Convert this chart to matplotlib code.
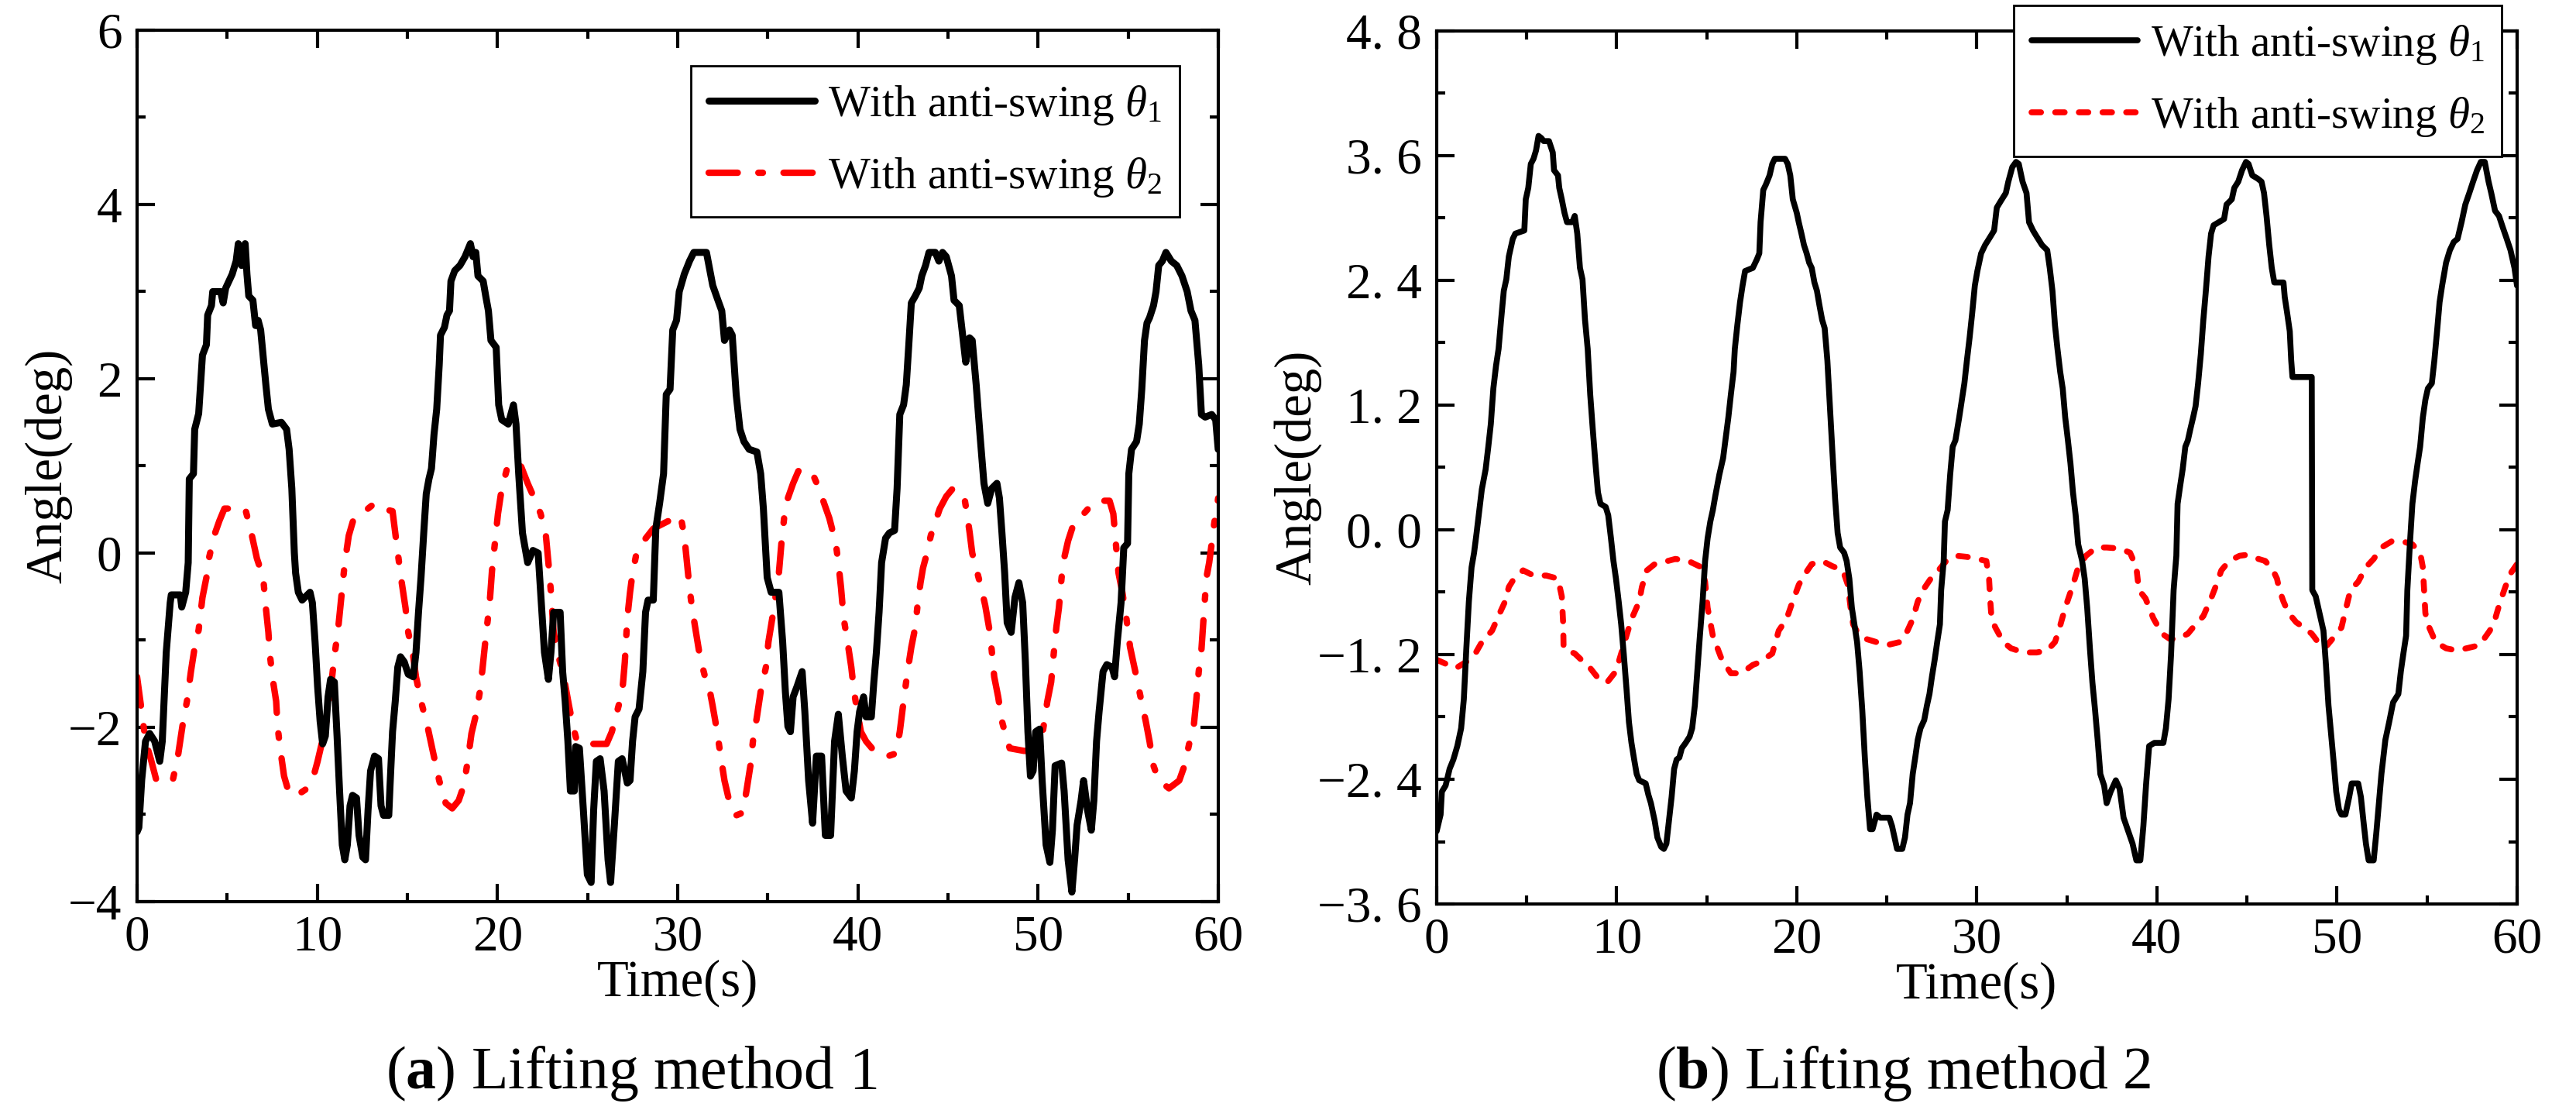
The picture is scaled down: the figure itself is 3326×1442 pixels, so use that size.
import matplotlib
matplotlib.use("Agg")
import matplotlib.pyplot as plt
from matplotlib.ticker import MultipleLocator, FixedLocator, FixedFormatter

# ---------------- data ----------------
# Panel (a): Lifting method 1
a_theta1 = [
    (0.0, -3.2), (0.1, -3.15), (0.26, -2.6), (0.47, -2.16), (0.7, -2.07), (0.98, -2.16),
    (1.26, -2.39), (1.4, -2.16), (1.62, -1.14), (1.84, -0.57), (1.9, -0.48), (2.4, -0.48),
    (2.48, -0.62), (2.7, -0.45), (2.84, -0.11), (2.9, 0.85), (3.13, 0.91), (3.2, 1.42),
    (3.42, 1.6), (3.63, 2.27), (3.85, 2.39), (3.92, 2.73), (4.13, 2.84), (4.2, 3.0),
    (4.64, 3.0), (4.78, 2.87), (4.92, 3.04), (5.28, 3.2), (5.5, 3.35), (5.62, 3.55),
    (5.8, 3.3), (6.0, 3.55), (6.1, 3.2), (6.2, 2.95), (6.43, 2.9), (6.58, 2.61),
    (6.72, 2.67), (6.86, 2.56), (7.15, 1.93), (7.29, 1.65), (7.51, 1.48), (8.01, 1.5),
    (8.3, 1.42), (8.44, 1.19), (8.59, 0.74), (8.73, 0.0), (8.8, -0.23), (8.95, -0.45),
    (9.16, -0.54), (9.6, -0.45), (9.73, -0.57), (9.88, -1.02), (10.02, -1.53), (10.16, -1.93),
    (10.3, -2.19), (10.45, -2.1), (10.6, -1.65), (10.74, -1.45), (10.95, -1.48), (11.1, -2.1),
    (11.24, -2.73), (11.39, -3.35), (11.53, -3.52), (11.67, -3.35), (11.82, -2.9), (11.96, -2.78),
    (12.18, -2.81), (12.32, -3.24), (12.53, -3.49), (12.68, -3.52), (12.82, -2.95), (12.96, -2.5),
    (13.18, -2.33), (13.4, -2.36), (13.54, -2.9), (13.68, -3.01), (13.97, -3.01), (14.04, -2.67),
    (14.18, -2.05), (14.33, -1.7), (14.47, -1.31), (14.62, -1.19), (14.83, -1.25), (15.05, -1.39),
    (15.33, -1.42), (15.48, -1.14), (15.62, -0.68), (15.76, -0.28), (15.91, 0.23), (16.05, 0.68),
    (16.2, 0.85), (16.34, 0.97), (16.48, 1.36), (16.63, 1.65), (16.77, 2.16), (16.84, 2.5),
    (17.06, 2.59), (17.2, 2.73), (17.34, 2.78), (17.42, 3.12), (17.63, 3.24), (17.92, 3.3),
    (18.2, 3.4), (18.5, 3.55), (18.65, 3.4), (18.8, 3.45), (18.92, 3.18), (19.21, 3.12),
    (19.35, 2.95), (19.5, 2.78), (19.64, 2.44), (19.93, 2.36), (20.07, 1.7), (20.24, 1.53),
    (20.6, 1.48), (20.89, 1.7), (21.03, 1.48), (21.18, 0.91), (21.39, 0.23), (21.68, -0.11),
    (21.97, 0.03), (22.26, 0.0), (22.4, -0.45), (22.61, -1.14), (22.83, -1.45), (22.97, -1.14),
    (23.12, -0.68), (23.48, -0.68), (23.62, -1.36), (23.76, -1.7), (23.91, -2.16), (24.05, -2.73),
    (24.27, -2.73), (24.34, -2.22), (24.55, -2.24), (24.77, -2.95), (24.99, -3.69), (25.2, -3.78),
    (25.34, -2.95), (25.49, -2.39), (25.7, -2.36), (25.92, -2.73), (26.14, -3.52), (26.28, -3.78),
    (26.49, -3.12), (26.71, -2.39), (26.92, -2.36), (27.21, -2.64), (27.36, -2.61), (27.5, -2.16),
    (27.64, -1.88), (27.86, -1.79), (28.07, -1.36), (28.22, -0.68), (28.36, -0.54), (28.65, -0.54),
    (28.79, 0.28), (29.0, 0.57), (29.22, 0.91), (29.37, 1.82), (29.58, 1.88), (29.73, 2.56),
    (29.94, 2.67), (30.09, 3.0), (30.37, 3.2), (30.66, 3.35), (30.9, 3.45), (31.6, 3.45),
    (31.74, 3.3), (31.95, 3.07), (32.24, 2.9), (32.45, 2.78), (32.6, 2.44), (32.88, 2.56),
    (33.03, 2.5), (33.25, 1.82), (33.46, 1.42), (33.68, 1.28), (33.97, 1.19), (34.4, 1.16),
    (34.61, 0.91), (34.76, 0.51), (34.97, -0.28), (35.19, -0.45), (35.62, -0.45), (35.83, -1.02),
    (35.98, -1.59), (36.12, -1.99), (36.26, -2.05), (36.41, -1.65), (36.63, -1.53), (36.91, -1.36),
    (37.06, -1.82), (37.27, -2.61), (37.49, -3.1), (37.7, -2.33), (37.99, -2.33), (38.2, -3.24),
    (38.49, -3.24), (38.71, -2.16), (38.92, -1.85), (39.14, -2.33), (39.35, -2.73), (39.64, -2.81),
    (39.81, -2.5), (39.96, -2.05), (40.1, -1.82), (40.32, -1.65), (40.46, -1.88), (40.75, -1.88),
    (40.89, -1.48), (41.03, -1.14), (41.18, -0.68), (41.32, -0.11), (41.54, 0.17), (41.75, 0.23),
    (42.04, 0.26), (42.18, 0.74), (42.33, 1.59), (42.54, 1.7), (42.69, 1.93), (42.83, 2.39),
    (42.97, 2.87), (43.19, 2.95), (43.41, 3.04), (43.55, 3.18), (43.76, 3.3), (43.95, 3.45),
    (44.3, 3.45), (44.5, 3.35), (44.7, 3.45), (44.91, 3.4), (45.2, 3.18), (45.34, 2.9),
    (45.63, 2.84), (45.85, 2.44), (45.99, 2.19), (46.2, 2.47), (46.35, 2.44), (46.57, 1.93),
    (46.78, 1.36), (47.0, 0.8), (47.21, 0.57), (47.43, 0.74), (47.72, 0.8), (47.86, 0.63),
    (48.0, 0.23), (48.15, -0.23), (48.29, -0.8), (48.51, -0.91), (48.72, -0.51), (48.94, -0.34),
    (49.15, -0.57), (49.3, -1.25), (49.44, -2.05), (49.58, -2.56), (49.73, -2.5), (49.87, -2.05),
    (50.09, -2.02), (50.23, -2.61), (50.45, -3.35), (50.66, -3.55), (50.8, -3.18), (50.95, -2.44),
    (51.31, -2.41), (51.45, -2.73), (51.67, -3.52), (51.88, -3.89), (52.03, -3.52), (52.17, -3.12),
    (52.39, -2.84), (52.53, -2.61), (52.75, -2.95), (52.96, -3.18), (53.1, -2.84), (53.25, -2.16),
    (53.39, -1.82), (53.61, -1.36), (53.82, -1.28), (54.11, -1.31), (54.25, -1.42), (54.4, -1.02),
    (54.61, -0.57), (54.76, 0.06), (54.97, 0.11), (55.04, 0.91), (55.19, 1.19), (55.47, 1.28),
    (55.62, 1.48), (55.76, 1.88), (55.91, 2.44), (56.05, 2.64), (56.19, 2.7), (56.41, 2.84),
    (56.55, 3.0), (56.7, 3.3), (56.9, 3.35), (57.1, 3.45), (57.4, 3.35), (57.7, 3.3),
    (57.99, 3.18), (58.28, 3.0), (58.49, 2.78), (58.71, 2.67), (58.92, 2.16), (59.07, 1.59),
    (59.28, 1.56), (59.64, 1.59), (59.86, 1.53), (60.0, 1.19),
]
a_theta2 = [
    (0.0, -1.42), (0.26, -1.82), (0.47, -2.16), (0.76, -2.36), (1.05, -2.59), (1.34, -2.64),
    (1.98, -2.61), (2.27, -2.33), (2.56, -1.93), (2.77, -1.7), (2.99, -1.36), (3.2, -1.08),
    (3.42, -0.88), (3.63, -0.51), (3.85, -0.28), (3.99, -0.06), (4.28, 0.2), (4.57, 0.37),
    (4.85, 0.51), (5.43, 0.51), (6.0, 0.51), (6.29, 0.28), (6.65, -0.06), (7.0, -0.28),
    (7.15, -0.63), (7.29, -0.91), (7.37, -1.16), (7.51, -1.42), (7.72, -1.7), (7.8, -1.99),
    (7.94, -2.24), (8.16, -2.56), (8.44, -2.76), (8.87, -2.78), (9.45, -2.7), (9.73, -2.61),
    (10.02, -2.39), (10.38, -2.07), (10.6, -1.82), (10.81, -1.45), (10.95, -1.19), (11.17, -0.85),
    (11.39, -0.4), (11.53, -0.11), (11.75, 0.2), (12.03, 0.4), (12.46, 0.45), (13.18, 0.57),
    (13.61, 0.51), (14.18, 0.48), (14.33, 0.23), (14.47, 0.0), (14.69, -0.34), (14.9, -0.63),
    (15.05, -0.91), (15.33, -1.19), (15.48, -1.42), (15.76, -1.7), (16.12, -1.99), (16.41, -2.27),
    (16.77, -2.61), (17.13, -2.87), (17.49, -2.93), (17.85, -2.84), (18.13, -2.67), (18.35, -2.39),
    (18.56, -2.07), (18.85, -1.82), (19.07, -1.53), (19.21, -1.25), (19.35, -0.97), (19.57, -0.57),
    (19.7, -0.2), (20.03, 0.45), (20.24, 0.74), (20.6, 1.02), (20.89, 1.05), (21.32, 0.99),
    (21.68, 0.8), (22.04, 0.63), (22.4, 0.45), (22.69, 0.2), (22.83, -0.11), (22.97, -0.45),
    (23.12, -0.91), (23.33, -1.14), (23.55, -1.31), (23.76, -1.51), (23.98, -1.76), (24.2, -1.99),
    (24.41, -2.16), (24.91, -2.19), (25.49, -2.19), (26.06, -2.19), (26.35, -2.05), (26.64, -1.82),
    (26.93, -1.59), (27.07, -1.25), (27.21, -0.74), (27.36, -0.45), (27.5, -0.23), (27.72, 0.0),
    (27.93, 0.09), (28.65, 0.28), (29.51, 0.37), (30.16, 0.43), (30.37, 0.2), (30.52, -0.11),
    (30.66, -0.4), (30.8, -0.63), (31.02, -0.91), (31.24, -1.19), (31.52, -1.42), (31.74, -1.53),
    (31.95, -1.76), (32.17, -2.02), (32.39, -2.33), (32.6, -2.61), (32.89, -2.87), (33.25, -3.01),
    (33.61, -2.98), (33.82, -2.73), (34.04, -2.44), (34.18, -2.16), (34.4, -1.88), (34.61, -1.59),
    (34.9, -1.31), (35.04, -1.02), (35.26, -0.74), (35.47, -0.45), (35.62, -0.23), (35.76, 0.11),
    (35.91, 0.4), (36.12, 0.63), (36.41, 0.8), (36.7, 0.94), (37.06, 0.97), (37.49, 0.91),
    (37.85, 0.74), (38.13, 0.57), (38.42, 0.4), (38.78, 0.11), (38.92, -0.11), (39.07, -0.4),
    (39.21, -0.74), (39.43, -1.02), (39.64, -1.31), (39.79, -1.59), (40.0, -1.85), (40.17, -2.05),
    (40.46, -2.16), (41.03, -2.3), (41.68, -2.33), (42.11, -2.3), (42.33, -2.05), (42.54, -1.7),
    (42.76, -1.36), (42.97, -1.08), (43.19, -0.85), (43.33, -0.57), (43.48, -0.34), (43.62, -0.17),
    (43.84, 0.0), (44.05, 0.2), (44.27, 0.34), (44.55, 0.51), (44.91, 0.65), (45.27, 0.74),
    (45.49, 0.74), (45.92, 0.63), (46.06, 0.45), (46.21, 0.23), (46.35, 0.0), (46.64, -0.23),
    (46.85, -0.4), (47.07, -0.6), (47.28, -0.85), (47.43, -1.11), (47.57, -1.42), (47.79, -1.65),
    (48.0, -1.93), (48.22, -2.1), (48.43, -2.24), (49.22, -2.27), (49.8, -2.27), (50.23, -2.1),
    (50.52, -1.7), (50.73, -1.48), (50.88, -1.14), (51.02, -0.85), (51.16, -0.63), (51.31, -0.28),
    (51.45, -0.06), (51.67, 0.14), (52.03, 0.37), (52.53, 0.45), (53.18, 0.6), (53.97, 0.6),
    (54.18, 0.45), (54.32, 0.11), (54.47, -0.23), (54.68, -0.45), (54.9, -0.74), (55.11, -1.08),
    (55.4, -1.36), (55.69, -1.65), (55.98, -1.93), (56.19, -2.16), (56.41, -2.44), (56.7, -2.61),
    (57.27, -2.7), (57.84, -2.61), (58.13, -2.44), (58.42, -2.16), (58.64, -1.99), (58.78, -1.7),
    (58.92, -1.36), (59.07, -1.11), (59.21, -0.68), (59.35, -0.28), (59.5, -0.11), (59.64, 0.11),
    (59.78, 0.34), (60.0, 0.63),
]

# Panel (b): Lifting method 2
b_theta1 = [
    (0.0, -2.9), (0.07, -2.85), (0.22, -2.74), (0.29, -2.52), (0.5, -2.46), (0.72, -2.3),
    (0.93, -2.21), (1.15, -2.08), (1.36, -1.91), (1.51, -1.63), (1.65, -1.14), (1.79, -0.69),
    (1.94, -0.36), (2.08, -0.22), (2.22, -0.03), (2.37, 0.19), (2.51, 0.39), (2.72, 0.58),
    (2.87, 0.8), (3.01, 1.02), (3.15, 1.36), (3.3, 1.58), (3.44, 1.74), (3.58, 2.02),
    (3.73, 2.3), (3.87, 2.41), (4.01, 2.63), (4.23, 2.8), (4.37, 2.85), (4.87, 2.88),
    (4.95, 3.18), (5.09, 3.29), (5.23, 3.52), (5.38, 3.57), (5.52, 3.65), (5.66, 3.79),
    (5.81, 3.77), (5.95, 3.74), (6.24, 3.74), (6.45, 3.63), (6.52, 3.46), (6.74, 3.41),
    (6.81, 3.29), (6.95, 3.18), (7.1, 3.05), (7.24, 2.96), (7.53, 2.96), (7.67, 3.02),
    (7.81, 2.85), (7.96, 2.52), (8.1, 2.41), (8.24, 2.02), (8.39, 1.74), (8.53, 1.3),
    (8.67, 0.97), (8.82, 0.64), (8.96, 0.36), (9.1, 0.25), (9.39, 0.22), (9.53, 0.14),
    (9.68, -0.08), (9.82, -0.3), (9.96, -0.47), (10.11, -0.69), (10.25, -0.91), (10.39, -1.19),
    (10.54, -1.52), (10.68, -1.85), (10.82, -2.05), (10.97, -2.21), (11.11, -2.35), (11.25, -2.41),
    (11.61, -2.44), (11.76, -2.55), (11.9, -2.63), (12.11, -2.8), (12.26, -2.96), (12.47, -3.05),
    (12.62, -3.07), (12.76, -3.02), (12.9, -2.8), (13.05, -2.57), (13.19, -2.3), (13.33, -2.21),
    (13.48, -2.19), (13.62, -2.1), (13.83, -2.05), (14.05, -1.99), (14.19, -1.91), (14.34, -1.69),
    (14.48, -1.36), (14.62, -1.02), (14.77, -0.69), (14.91, -0.3), (15.05, -0.08), (15.2, 0.08),
    (15.34, 0.19), (15.48, 0.33), (15.7, 0.53), (15.91, 0.69), (16.06, 0.89), (16.2, 1.08),
    (16.34, 1.3), (16.49, 1.52), (16.56, 1.74), (16.7, 1.97), (16.85, 2.19), (16.99, 2.35),
    (17.13, 2.49), (17.56, 2.52), (17.78, 2.6), (17.92, 2.66), (17.99, 2.96), (18.14, 3.27),
    (18.28, 3.32), (18.49, 3.41), (18.64, 3.52), (18.78, 3.57), (19.35, 3.57), (19.5, 3.52),
    (19.64, 3.41), (19.78, 3.18), (20.0, 3.05), (20.11, 2.96), (20.26, 2.85), (20.4, 2.74),
    (20.55, 2.66), (20.69, 2.57), (20.83, 2.52), (20.98, 2.38), (21.12, 2.3), (21.26, 2.16),
    (21.41, 2.02), (21.55, 1.94), (21.7, 1.63), (21.84, 1.19), (21.98, 0.75), (22.13, 0.3),
    (22.27, -0.03), (22.41, -0.17), (22.63, -0.22), (22.77, -0.3), (22.92, -0.47), (23.06, -0.75),
    (23.2, -0.91), (23.35, -1.08), (23.49, -1.36), (23.64, -1.74), (23.78, -2.19), (23.92, -2.57),
    (24.07, -2.88), (24.21, -2.88), (24.43, -2.74), (24.64, -2.77), (25.14, -2.77), (25.29, -2.85),
    (25.43, -2.96), (25.57, -3.07), (25.86, -3.07), (26.01, -2.96), (26.15, -2.74), (26.29, -2.63),
    (26.44, -2.35), (26.58, -2.19), (26.72, -2.02), (26.87, -1.91), (27.08, -1.83), (27.23, -1.69),
    (27.37, -1.58), (27.51, -1.41), (27.66, -1.25), (27.8, -1.08), (27.95, -0.91), (28.02, -0.58),
    (28.16, -0.3), (28.23, 0.08), (28.38, 0.19), (28.52, 0.53), (28.66, 0.8), (28.81, 0.86),
    (29.02, 1.08), (29.17, 1.25), (29.31, 1.41), (29.45, 1.63), (29.6, 1.85), (29.74, 2.08),
    (29.89, 2.35), (30.03, 2.49), (30.24, 2.66), (30.46, 2.74), (30.75, 2.82), (30.96, 2.88),
    (31.11, 3.1), (31.32, 3.16), (31.61, 3.24), (31.75, 3.35), (31.97, 3.49), (32.18, 3.54),
    (32.33, 3.52), (32.54, 3.35), (32.76, 3.24), (32.9, 2.96), (33.12, 2.88), (33.33, 2.82),
    (33.62, 2.74), (33.91, 2.69), (34.05, 2.52), (34.2, 2.3), (34.34, 1.97), (34.48, 1.74),
    (34.63, 1.52), (34.77, 1.36), (34.91, 1.08), (35.06, 0.86), (35.2, 0.64), (35.34, 0.36),
    (35.49, 0.14), (35.63, -0.14), (35.85, -0.3), (35.99, -0.47), (36.13, -0.75), (36.28, -1.14),
    (36.42, -1.47), (36.57, -1.74), (36.71, -2.02), (36.86, -2.35), (37.07, -2.46), (37.21, -2.63),
    (37.43, -2.52), (37.72, -2.41), (37.93, -2.49), (38.15, -2.77), (38.43, -2.91), (38.65, -3.02),
    (38.86, -3.18), (39.08, -3.18), (39.25, -2.85), (39.4, -2.45), (39.57, -2.08), (39.86, -2.05),
    (40.36, -2.05), (40.5, -1.91), (40.65, -1.63), (40.79, -1.19), (40.93, -0.58), (41.08, -0.25),
    (41.15, 0.25), (41.29, 0.42), (41.43, 0.58), (41.58, 0.8), (41.72, 0.86), (41.86, 0.97),
    (42.01, 1.08), (42.15, 1.19), (42.29, 1.41), (42.44, 1.69), (42.58, 2.02), (42.72, 2.3),
    (42.87, 2.63), (43.01, 2.85), (43.15, 2.93), (43.44, 2.96), (43.73, 2.99), (43.87, 3.13),
    (44.16, 3.18), (44.3, 3.29), (44.52, 3.35), (44.73, 3.46), (44.95, 3.54), (45.09, 3.52),
    (45.3, 3.41), (45.59, 3.38), (45.81, 3.35), (45.95, 3.24), (46.09, 3.02), (46.24, 2.74),
    (46.38, 2.52), (46.52, 2.38), (47.03, 2.38), (47.1, 2.24), (47.24, 2.08), (47.38, 1.91),
    (47.46, 1.63), (47.53, 1.47), (48.6, 1.47), (48.63, -0.58), (48.82, -0.64), (49.03, -0.8),
    (49.25, -0.97), (49.39, -1.3), (49.53, -1.69), (49.68, -1.97), (49.82, -2.24), (49.96, -2.52),
    (50.11, -2.69), (50.25, -2.74), (50.47, -2.74), (50.68, -2.57), (50.82, -2.44), (51.18, -2.44),
    (51.33, -2.57), (51.47, -2.8), (51.61, -3.02), (51.76, -3.18), (52.04, -3.18), (52.19, -2.91),
    (52.33, -2.63), (52.47, -2.35), (52.69, -2.02), (52.9, -1.85), (53.12, -1.66), (53.41, -1.58),
    (53.55, -1.36), (53.69, -1.19), (53.84, -1.02), (53.91, -0.58), (54.05, -0.14), (54.19, 0.25),
    (54.34, 0.47), (54.48, 0.64), (54.62, 0.8), (54.77, 1.08), (54.91, 1.25), (55.05, 1.36),
    (55.27, 1.41), (55.41, 1.63), (55.56, 1.91), (55.7, 2.19), (55.84, 2.35), (56.06, 2.57),
    (56.27, 2.69), (56.49, 2.77), (56.7, 2.8), (56.92, 2.96), (57.13, 3.13), (57.35, 3.24),
    (57.56, 3.35), (57.78, 3.46), (57.99, 3.54), (58.21, 3.54), (58.42, 3.35), (58.57, 3.24),
    (58.78, 3.07), (59.0, 3.02), (59.21, 2.91), (59.43, 2.8), (59.64, 2.69), (59.86, 2.52),
    (60.0, 2.35),
]
b_theta2 = [
    (0.0, -1.25), (0.65, -1.3), (1.08, -1.33), (1.65, -1.27), (2.15, -1.19), (2.51, -1.08),
    (3.08, -0.97), (3.51, -0.8), (3.8, -0.69), (4.01, -0.55), (4.3, -0.47), (4.8, -0.39),
    (5.38, -0.44), (6.09, -0.44), (6.74, -0.47), (6.95, -0.64), (7.03, -0.91), (7.05, -1.14),
    (7.24, -1.16), (7.67, -1.19), (8.03, -1.25), (8.39, -1.3), (8.89, -1.41), (9.46, -1.47),
    (9.96, -1.36), (10.25, -1.19), (10.54, -1.02), (10.82, -0.86), (11.25, -0.69), (11.4, -0.55),
    (11.68, -0.39), (12.11, -0.33), (12.83, -0.3), (13.26, -0.28), (13.98, -0.3), (14.7, -0.36),
    (14.91, -0.5), (15.05, -0.75), (15.34, -1.02), (15.84, -1.25), (16.34, -1.38), (16.92, -1.38),
    (17.56, -1.3), (17.99, -1.27), (18.64, -1.19), (19.0, -0.97), (19.43, -0.86), (19.71, -0.72),
    (20.11, -0.53), (20.4, -0.44), (20.83, -0.33), (21.41, -0.3), (21.98, -0.35), (22.56, -0.39),
    (22.84, -0.53), (22.99, -0.75), (23.13, -0.91), (23.42, -1.0), (23.85, -1.05), (24.43, -1.08),
    (25.0, -1.11), (25.72, -1.08), (26.15, -0.97), (26.44, -0.86), (26.72, -0.69), (27.01, -0.58),
    (27.44, -0.47), (27.87, -0.39), (28.3, -0.3), (28.88, -0.25), (29.45, -0.26), (30.03, -0.28),
    (30.53, -0.3), (30.68, -0.47), (30.75, -0.69), (30.82, -0.86), (31.03, -0.94), (31.47, -1.08),
    (31.9, -1.14), (32.61, -1.18), (33.33, -1.18), (33.91, -1.16), (34.34, -1.08), (34.55, -0.97),
    (34.91, -0.75), (35.34, -0.53), (35.63, -0.36), (36.06, -0.25), (36.64, -0.17), (37.21, -0.17),
    (37.93, -0.18), (38.51, -0.22), (38.86, -0.36), (39.0, -0.58), (39.37, -0.66), (39.8, -0.85),
    (40.29, -1.0), (40.72, -1.05), (41.15, -1.05), (41.72, -1.0), (42.15, -0.91), (42.58, -0.83),
    (43.01, -0.66), (43.3, -0.53), (43.58, -0.39), (44.01, -0.3), (44.59, -0.25), (45.02, -0.24),
    (45.45, -0.27), (46.02, -0.3), (46.45, -0.39), (46.67, -0.47), (46.81, -0.58), (47.03, -0.69),
    (47.31, -0.8), (47.74, -0.89), (48.17, -0.94), (48.6, -1.0), (48.82, -1.05), (49.18, -1.14),
    (49.46, -1.11), (49.89, -1.02), (50.25, -0.94), (50.47, -0.78), (50.75, -0.58), (51.18, -0.5),
    (51.61, -0.36), (52.04, -0.28), (52.47, -0.17), (53.05, -0.11), (53.62, -0.11), (54.19, -0.14),
    (54.62, -0.22), (54.77, -0.36), (54.84, -0.58), (54.91, -0.8), (55.05, -0.91), (55.48, -1.08),
    (56.06, -1.14), (56.63, -1.16), (57.2, -1.14), (57.92, -1.11), (58.49, -0.97), (58.78, -0.86),
    (59.07, -0.69), (59.35, -0.55), (59.64, -0.42), (60.0, -0.33),
]

series_labels = [r'With anti-swing $\theta_1$', r'With anti-swing $\theta_2$']
x_label = 'Time(s)'
y_label = 'Angle(deg)'
titles = [r'($\mathbf{a}$) Lifting method 1', r'($\mathbf{b}$) Lifting method 2']

a_yticks = [-4, -2, 0, 2, 4, 6]
a_yticklabels = ['\u22124', '\u22122', '0', '2', '4', '6']
b_yticks = [-3.6, -2.4, -1.2, 0.0, 1.2, 2.4, 3.6, 4.8]
b_yticklabels = ['\u22123. 6', '\u22122. 4', '\u22121. 2', '0. 0', '1. 2', '2. 4', '3. 6', '4. 8']
xticks = [0, 10, 20, 30, 40, 50, 60]

# ---------------- style ----------------
plt.rcParams['font.family'] = ['Liberation Serif', 'DejaVu Serif']
plt.rcParams['mathtext.fontset'] = 'custom'
plt.rcParams['mathtext.rm'] = 'Liberation Serif'
plt.rcParams['mathtext.it'] = 'Liberation Serif:italic'
plt.rcParams['mathtext.bf'] = 'Liberation Serif:bold'

TICK_FS = 47
LABEL_FS = 48
LEG_FS = 41
TITLE_FS = 56

fig = plt.figure(figsize=(33.26, 14.42), dpi=100)
axA = fig.add_axes([0.0532, 0.1928, 0.4197, 0.7802])
axB = fig.add_axes([0.5577, 0.1907, 0.4194, 0.7816])


def unzip(pairs):
    return [p[0] for p in pairs], [p[1] for p in pairs]


def style_axes(ax, ylim, yticks, yticklabels, yminor):
    ax.set_xlim(0, 60)
    ax.set_ylim(*ylim)
    ax.xaxis.set_major_locator(FixedLocator(xticks))
    ax.xaxis.set_minor_locator(MultipleLocator(5))
    ax.yaxis.set_major_locator(FixedLocator(yticks))
    ax.yaxis.set_major_formatter(FixedFormatter(yticklabels))
    ax.yaxis.set_minor_locator(MultipleLocator(yminor))
    ax.tick_params(which='both', direction='in', top=True, right=True,
                   width=3, labelsize=TICK_FS)
    ax.tick_params(axis='x', which='both', pad=12)
    ax.tick_params(axis='y', which='both', pad=14)
    ax.tick_params(which='major', length=16.5)
    ax.tick_params(which='minor', length=8)
    for s in ax.spines.values():
        s.set_linewidth(3)
    ax.set_xlabel(x_label, fontsize=LABEL_FS, labelpad=-1)
    ax.set_ylabel(y_label, fontsize=LABEL_FS, labelpad=-4)


# Panel (a)
t, v = unzip(a_theta1)
axA.plot(t, v, color='black', lw=6.5, solid_joinstyle='round', solid_capstyle='round',
         label=series_labels[0], zorder=3)
t, v = unzip(a_theta2)
axA.plot(t, v, color='#ff0000', lw=6, linestyle=(0, (4.5, 3.2, 0.7, 3.2)),
         dash_capstyle='round', dash_joinstyle='round', label=series_labels[1], zorder=2)
style_axes(axA, (-4, 6), a_yticks, a_yticklabels, 1)
legA = axA.legend(loc='upper right', bbox_to_anchor=(0.964, 0.959), fontsize=LEG_FS,
                  frameon=True, fancybox=False, framealpha=1, edgecolor='black',
                  borderaxespad=0, handlelength=2.4, handletextpad=0.3,
                  labelspacing=0.65, borderpad=0.4)
legA.get_frame().set_linewidth(2)

# Panel (b)
t, v = unzip(b_theta1)
axB.plot(t, v, color='black', lw=5.5, solid_joinstyle='round', solid_capstyle='round',
         label=series_labels[0], zorder=3)
t, v = unzip(b_theta2)
axB.plot(t, v, color='#ff0000', lw=5.5, linestyle=(0, (1.6, 2.4)),
         dash_capstyle='round', dash_joinstyle='round', label=series_labels[1], zorder=2)
style_axes(axB, (-3.6, 4.8), b_yticks, b_yticklabels, 0.6)
legB = axB.legend(loc='upper right', bbox_to_anchor=(0.986, 1.029), fontsize=LEG_FS,
                  frameon=True, fancybox=False, framealpha=1, edgecolor='black',
                  borderaxespad=0, handlelength=2.4, handletextpad=0.3,
                  labelspacing=0.65, borderpad=0.4)
legB.get_frame().set_linewidth(2)
legB.set_clip_on(False)

# Sub-captions
fig.text(0.245, 0.039, titles[0], fontsize=TITLE_FS, ha='center', va='center')
fig.text(0.739, 0.039, titles[1], fontsize=TITLE_FS, ha='center', va='center')

fig.savefig('out.png', dpi=100)
